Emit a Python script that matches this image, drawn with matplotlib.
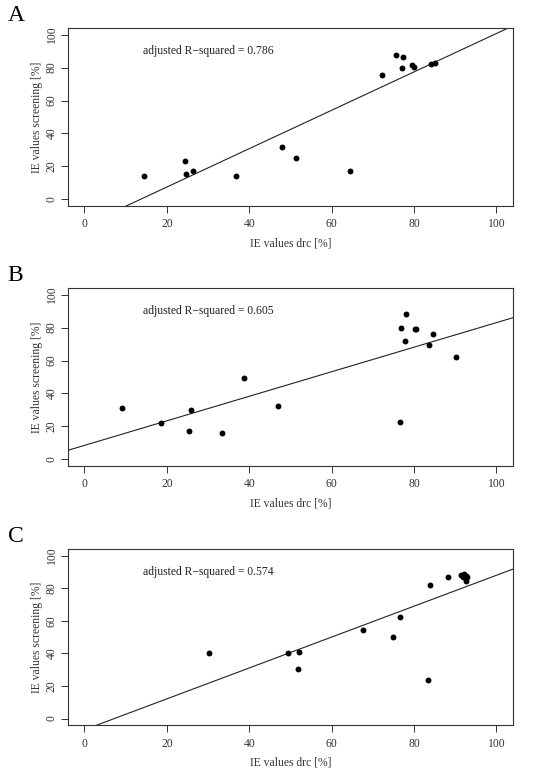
import numpy as np
import matplotlib
matplotlib.use("Agg")
from matplotlib import pyplot as plt

plt.rcParams['font.family'] = ['Liberation Serif', 'DejaVu Serif']
plt.rcParams['font.size'] = 8.4

# panel A
a_drc = [14.5, 24.3, 24.7, 26.4, 36.8, 47.9, 51.4, 64.5, 72.1, 75.6, 77.3, 77.1, 79.5, 80.0, 84.0, 85.1]
a_scr = [14.4, 23.1, 15.2, 17.4, 14.4, 31.8, 25.1, 17.0, 75.6, 87.6, 86.3, 79.6, 81.7, 80.6, 82.2, 82.6]
# panel B
b_drc = [9.2, 18.6, 25.3, 25.9, 33.4, 38.8, 46.9, 76.5, 76.8, 78.1, 77.8, 80.2, 80.4, 83.7, 84.6, 90.2]
b_scr = [31.2, 21.8, 17.1, 29.7, 16.3, 49.1, 32.6, 22.8, 79.8, 88.1, 71.8, 79.1, 79.4, 69.2, 76.3, 61.9]
# panel C
c_drc = [30.3, 49.5, 52.1, 51.9, 67.5, 75.0, 76.6, 83.4, 83.9, 88.2, 91.5, 92.2, 91.8, 92.5, 92.9, 92.6]
c_scr = [40.0, 40.1, 40.9, 30.5, 54.4, 50.3, 62.1, 23.6, 81.9, 86.6, 88.2, 88.6, 87.0, 87.4, 87.0, 84.1]

# fitted lines (intercept, slope)
intercepts = [-15.8, 8.5, -6.9]
slopes = [1.165, 0.745, 0.948]
r2 = ["0.786", "0.605", "0.574"]
letters = ["A", "B", "C"]
ticks = [0, 20, 40, 60, 80, 100]

xs = [a_drc, b_drc, c_drc]
ys = [a_scr, b_scr, c_scr]

fig = plt.figure(figsize=(5.5, 7.77), dpi=100)
boxes = [(0.1236, 0.7349, 0.809, 0.229),
         (0.1236, 0.4003, 0.809, 0.229),
         (0.1236, 0.0669, 0.809, 0.2265)]

for i in range(3):
    ax = fig.add_axes(boxes[i])
    ax.scatter(xs[i], ys[i], s=18, color='black', zorder=3, linewidths=0)
    ax.axline((0, intercepts[i]), slope=slopes[i], color='#222222', lw=0.8)
    ax.set_xlim(-4, 104)
    ax.set_ylim(-4, 104)
    ax.set_xticks(ticks)
    ax.set_yticks(ticks)
    ax.set_yticklabels([str(t) for t in ticks], rotation=90, va='center')
    ax.tick_params(direction='out', length=5, width=0.7, pad=4, colors='#333333', labelcolor='#333333')
    ax.tick_params(axis='y', pad=2.5)
    for sp in ax.spines.values():
        sp.set_linewidth(0.8)
        sp.set_color('#333333')
    ax.set_xlabel("IE values drc [%]", labelpad=5, color='#333333')
    ax.set_ylabel("IE values screening [%]", labelpad=2, color='#333333')
    ax.text(30, 90, "adjusted R\u2212squared = " + r2[i], ha='center', va='center', color='#222222')
    fig.text(0.014, boxes[i][1] + boxes[i][3] + 0.016, letters[i], fontsize=17, va='center', ha='left')

fig.savefig("out.png", dpi=100)
